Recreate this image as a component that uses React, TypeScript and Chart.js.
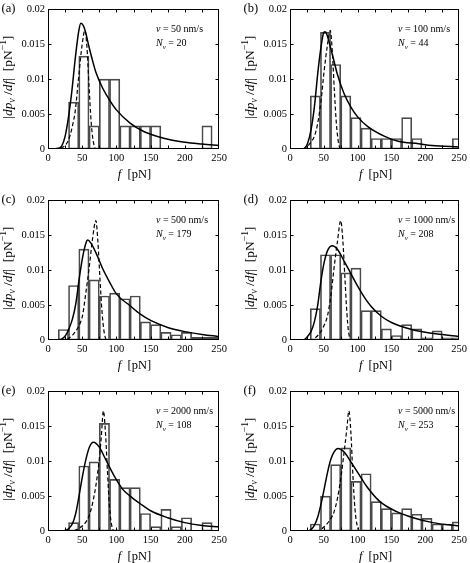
import React, { useEffect, useRef } from "react";
import { Chart, registerables } from "chart.js";

Chart.register(...registerables);

// ---------- data ----------
const panelLetters = ["(a)", "(b)", "(c)", "(d)", "(e)", "(f)"];
const speeds = [50, 100, 500, 1000, 2000, 5000];
const counts = [20, 44, 179, 208, 108, 253];

const xTickLabels = ["0", "50", "100", "150", "200", "250"];
const yTickLabels = ["0", "0.005", "0.01", "0.015", "0.02"];
const xMinorTicks = [25, 50, 75, 100, 125, 150, 175, 200, 225];
const yMinorTicks = [0.005, 0.01, 0.015];

// histogram bins of 15 pN: 0-15, 15-30, ..., 240-255
const binCenters = [7.5, 22.5, 37.5, 52.5, 67.5, 82.5, 97.5, 112.5, 127.5, 142.5, 157.5, 172.5, 187.5, 202.5, 217.5, 232.5, 247.5];
const histA = [0, 0, 0.0067, 0.0133, 0.0033, 0.01, 0.01, 0.0033, 0.0033, 0.0033, 0.0033, 0, 0, 0, 0, 0.0033, 0];
const histB = [0, 0, 0.0076, 0.0167, 0.0121, 0.0076, 0.0045, 0.003, 0.0015, 0.0015, 0.0015, 0.0045, 0.0015, 0, 0, 0, 0.0015];
const histC = [0, 0.0015, 0.0078, 0.013, 0.0086, 0.0063, 0.0067, 0.0059, 0.0063, 0.0026, 0.0022, 0.0011, 0.00075, 0.0011, 0.00037, 0.00037, 0.00037];
const histD = [0, 0, 0.0045, 0.0122, 0.0122, 0.0096, 0.0103, 0.0042, 0.0042, 0.0016, 0.00064, 0.0022, 0.0016, 0.00032, 0.0013, 0.00032, 0.00032];
const histE = [0, 0, 0.0012, 0.0093, 0.0099, 0.0154, 0.0074, 0.0062, 0.0062, 0.0025, 0.00062, 0.0031, 0.00062, 0.0019, 0, 0.0012, 0];
const histF = [0, 0, 0.001, 0.005, 0.0095, 0.0119, 0.0071, 0.0082, 0.0042, 0.0032, 0.0026, 0.0032, 0.0024, 0.0018, 0.001, 0.001, 0.0013];

// solid curves [f, |dp/df|]
const solidA = [[0, 0], [15, 0.0001], [20, 0.0004], [25, 0.0018], [30, 0.0046], [35, 0.0084], [40, 0.0131], [45, 0.0169], [48, 0.018], [52, 0.0176], [55, 0.0167], [60, 0.0146], [65, 0.0127], [70, 0.011], [80, 0.0087], [90, 0.007], [100, 0.0056], [120, 0.0037], [140, 0.0025], [160, 0.0018], [180, 0.0013], [200, 0.00095], [225, 0.0007], [250, 0.0005]];
const solidB = [[0, 0], [15, 0], [21, 0.0001], [26, 0.0008], [31, 0.0027], [36, 0.006], [41, 0.0108], [45, 0.014], [50, 0.0167], [52, 0.0168], [54.5, 0.0164], [60, 0.0145], [65, 0.0126], [70, 0.0107], [80, 0.0079], [90, 0.006], [100, 0.0046], [115, 0.0032], [140, 0.0018], [160, 0.0011], [190, 0.00075], [210, 0.0005], [250, 0.0003]];
const solidC = [[0, 0], [15, 0], [21, 0.0002], [26, 0.0007], [31, 0.0017], [36, 0.0031], [41, 0.0054], [45.5, 0.0087], [50.5, 0.0118], [55.5, 0.0139], [58, 0.0143], [62.5, 0.0139], [70, 0.0125], [80, 0.0102], [90, 0.0083], [100, 0.0066], [120, 0.0049], [135, 0.0037], [150, 0.0028], [175, 0.0018], [200, 0.0012], [225, 0.0008], [250, 0.0005]];
const solidD = [[0, 0], [20, 0], [26, 0.0005], [31, 0.0012], [36, 0.0026], [41, 0.005], [45.5, 0.0083], [50.5, 0.0111], [55.5, 0.0128], [62.5, 0.0135], [70, 0.013], [80, 0.0113], [90, 0.0095], [100, 0.0077], [110, 0.0061], [120, 0.0048], [135, 0.0034], [150, 0.0025], [180, 0.0015], [210, 0.00095], [250, 0.0005]];
const solidE = [[0, 0], [20, 0], [26, 0.0001], [31, 0.0004], [36, 0.0011], [40.5, 0.0025], [45.5, 0.0051], [50.5, 0.0079], [55.5, 0.0103], [60.5, 0.012], [66.5, 0.0127], [75, 0.012], [85, 0.0101], [95, 0.0082], [109, 0.006], [120, 0.005], [135, 0.0039], [150, 0.0029], [175, 0.0019], [200, 0.0012], [225, 0.0008], [250, 0.0006]];
const solidF = [[0, 0], [25, 0], [31, 0.0002], [36, 0.0008], [41, 0.002], [45.5, 0.0037], [50.5, 0.006], [55.5, 0.0084], [60.5, 0.0103], [65, 0.0113], [71, 0.0118], [80, 0.0113], [90, 0.0099], [100, 0.0084], [114, 0.0063], [133, 0.0042], [157, 0.0028], [182, 0.0019], [211, 0.0012], [250, 0.0007]];

// dashed curves [f, |dp/df|]
const dashedA = [[0, 0], [15, 0], [20, 0.0002], [25, 0.0005], [30, 0.0013], [35, 0.003], [40, 0.0056], [45, 0.0105], [50, 0.015], [54, 0.017], [57, 0.0145], [60, 0.009], [63, 0.004], [66, 0.0012], [70, 0], [250, 0]];
const dashedB = [[0, 0], [20, 0], [26, 0.0004], [31, 0.001], [36, 0.0018], [41, 0.0037], [46, 0.007], [50.5, 0.0112], [55.5, 0.015], [59.5, 0.017], [62.5, 0.014], [65.5, 0.0085], [68.5, 0.0037], [71.5, 0.001], [75, 0], [250, 0]];
const dashedC = [[0, 0], [25, 0], [31, 0.0003], [36, 0.0007], [45.5, 0.0021], [50.5, 0.0035], [55.5, 0.0069], [60.5, 0.0106], [65, 0.0144], [70, 0.0171], [73, 0.014], [76, 0.0087], [79, 0.004], [82, 0.0012], [86, 0], [250, 0]];
const dashedD = [[0, 0], [30, 0], [36, 0.0002], [45.5, 0.0012], [50.5, 0.0021], [55.5, 0.0035], [60.5, 0.0064], [65, 0.0102], [70, 0.014], [75, 0.0171], [78, 0.0144], [81, 0.0092], [84, 0.004], [86.5, 0.0012], [90.5, 0], [250, 0]];
const dashedE = [[0, 0], [35, 0], [45.5, 0.0004], [55.5, 0.0013], [60.5, 0.0023], [65, 0.0039], [70, 0.0065], [75, 0.0103], [78, 0.0136], [81, 0.0172], [84, 0.0141], [87, 0.0084], [89.7, 0.0037], [92.6, 0.0011], [96.6, 0], [250, 0]];
const dashedF = [[0, 0], [40, 0], [50.5, 0.0006], [60.5, 0.0018], [65, 0.0027], [70, 0.0046], [75, 0.0075], [80, 0.0113], [84, 0.0146], [87, 0.0172], [90, 0.0141], [93, 0.0079], [96, 0.0032], [99, 0.0009], [103, 0], [250, 0]];

const hists = [histA, histB, histC, histD, histE, histF];
const solids = [solidA, solidB, solidC, solidD, solidE, solidF];
const dasheds = [dashedA, dashedB, dashedC, dashedD, dashedE, dashedF];

// ---------- text helpers ----------
const SERIF = '"Liberation Serif", "Times New Roman", serif';
type Run = { t: string; it?: boolean; sub?: boolean; sup?: boolean };

function runFont(r: Run, size: number) {
  const s = r.sub || r.sup ? size * 0.7 : size;
  return `${r.it ? "italic " : ""}${s}px ${SERIF}`;
}

function drawRuns(ctx: CanvasRenderingContext2D, runs: Run[], x: number, y: number, size: number, align: "left" | "center") {
  let w = 0;
  for (const r of runs) {
    ctx.font = runFont(r, size);
    w += ctx.measureText(r.t).width;
  }
  let cx = align === "center" ? x - w / 2 : x;
  ctx.textAlign = "left";
  ctx.textBaseline = "alphabetic";
  for (const r of runs) {
    ctx.font = runFont(r, size);
    const dy = r.sub ? size * 0.28 : r.sup ? -size * 0.38 : 0;
    ctx.fillText(r.t, cx, y + dy);
    cx += ctx.measureText(r.t).width;
  }
}

const yTitleRuns: Run[] = [
  { t: "|" },
  { t: "dp", it: true },
  { t: "v", it: true, sub: true },
  { t: " /" },
  { t: "df", it: true },
  { t: "|  [pN" },
  { t: "\u22121", sup: true },
  { t: "]" },
];
const xTitleRuns: Run[] = [{ t: "f", it: true }, { t: "  [pN]" }];

function makeOverlay(i: number) {
  return {
    id: "overlay" + i,
    afterDraw(chart: any) {
      const { ctx, chartArea: a, scales } = chart;
      const xs = scales.x;
      const ys = scales.y;
      ctx.save();
      ctx.strokeStyle = "#000";
      ctx.lineWidth = 1;
      const L = Math.round(a.left) + 0.5;
      const R = Math.round(a.right) - 0.5;
      const T = Math.round(a.top) + 0.5;
      const B = Math.round(a.bottom) - 0.5;
      ctx.strokeRect(L, T, R - L, B - T);
      ctx.beginPath();
      for (const v of xMinorTicks) {
        const px = Math.round(xs.getPixelForValue(v)) + 0.5;
        ctx.moveTo(px, B);
        ctx.lineTo(px, B - 3);
        ctx.moveTo(px, T);
        ctx.lineTo(px, T + 3);
      }
      for (const v of yMinorTicks) {
        const py = Math.round(ys.getPixelForValue(v)) + 0.5;
        ctx.moveTo(L, py);
        ctx.lineTo(L + 3, py);
        ctx.moveTo(R, py);
        ctx.lineTo(R - 3, py);
      }
      ctx.stroke();

      ctx.fillStyle = "#000";
      // panel letter
      ctx.font = `12.5px ${SERIF}`;
      ctx.textAlign = "left";
      ctx.textBaseline = "middle";
      ctx.fillText(panelLetters[i], a.left - 46.5, a.top - 1);

      // y title
      ctx.save();
      ctx.translate(a.left - 41, (a.top + a.bottom) / 2 - 2);
      ctx.rotate(-Math.PI / 2);
      drawRuns(ctx, yTitleRuns, 0, 4.5, 13.5, "center");
      ctx.restore();

      // x title
      drawRuns(ctx, xTitleRuns, (a.left + a.right) / 2 + 1, a.bottom + 29, 12.5, "center");

      // annotation
      const ax = a.left + 108;
      drawRuns(ctx, [{ t: "v", it: true }, { t: ` = ${speeds[i]} nm/s` }], ax, a.top + 23, 10, "left");
      drawRuns(ctx, [{ t: "N", it: true }, { t: "v", it: true, sub: true }, { t: ` = ${counts[i]}` }], ax, a.top + 37, 10, "left");
      ctx.restore();
    },
  };
}

function Panel({ i, left, top, leftW, padR }: { i: number; left: number; top: number; leftW: number; padR: number }) {
  const ref = useRef<HTMLCanvasElement | null>(null);
  useEffect(() => {
    if (!ref.current) return;
    const tickFont = { family: SERIF, size: 10.5 };
    const barData = binCenters
      .map((x, k) => ({ x, y: hists[i][k] }))
      .filter((d) => d.y > 0);
    const chart = new Chart(ref.current, {
      type: "line",
      data: {
        datasets: [
          {
            type: "line",
            data: solids[i].map(([x, y]) => ({ x, y })),
            borderColor: "#000",
            borderWidth: 1.5,
            pointRadius: 0,
            cubicInterpolationMode: "monotone",
            fill: false,
            order: 0,
          } as any,
          {
            type: "line",
            data: dasheds[i].map(([x, y]) => ({ x, y })),
            borderColor: "#000",
            borderWidth: 1.2,
            borderDash: [4, 2.5],
            pointRadius: 0,
            cubicInterpolationMode: "monotone",
            fill: false,
            order: 1,
          } as any,
          {
            type: "bar",
            data: barData,
            backgroundColor: "rgba(255,255,255,0)",
            borderColor: "#4a4a4a",
            borderWidth: 1,
            barPercentage: 1,
            categoryPercentage: 1,
            borderSkipped: false,
            order: 2,
          } as any,
        ],
      },
      options: {
        responsive: false,
        animation: false,
        layout: { padding: { top: 8, right: padR, left: 0, bottom: 0 } },
        plugins: { legend: { display: false }, tooltip: { enabled: false } },
        scales: {
          x: {
            type: "linear",
            min: 0,
            max: 250,
            offset: false,
            grid: { display: false, drawTicks: false },
            border: { display: false },
            ticks: {
              stepSize: 50,
              padding: 3,
              maxRotation: 0,
              color: "#000",
              font: tickFont,
              callback: (_v: any, idx: number) => xTickLabels[idx],
            },
            afterFit: (s: any) => {
              s.height = 32;
            },
          },
          y: {
            type: "linear",
            min: 0,
            max: 0.02,
            grid: { display: false, drawTicks: false },
            border: { display: false },
            ticks: {
              stepSize: 0.005,
              padding: 3,
              color: "#000",
              font: tickFont,
              callback: (_v: any, idx: number) => yTickLabels[idx],
            },
            afterFit: (s: any) => {
              s.width = leftW;
            },
          },
        },
      } as any,
      plugins: [makeOverlay(i)],
    });
    return () => chart.destroy();
  }, [i, leftW, padR]);
  return (
    <div style={{ position: "absolute", left, top, width: 235, height: 181 }}>
      <canvas ref={ref} width={235} height={181} style={{ width: 235, height: 181, display: "block" }} />
    </div>
  );
}

export default function App() {
  const rowsTop = [0, 191, 382];
  return (
    <div style={{ position: "absolute", left: 0, top: 0, width: 470, height: 563, overflow: "hidden", background: "#fff" }}>
      {panelLetters.map((_, i) => {
        const col = i % 2;
        const row = Math.floor(i / 2);
        return (
          <Panel
            key={i}
            i={i}
            left={col === 0 ? 0 : 235}
            top={rowsTop[row]}
            leftW={col === 0 ? 48 : 55}
            padR={col === 0 ? 16 : 8}
          />
        );
      })}
    </div>
  );
}
